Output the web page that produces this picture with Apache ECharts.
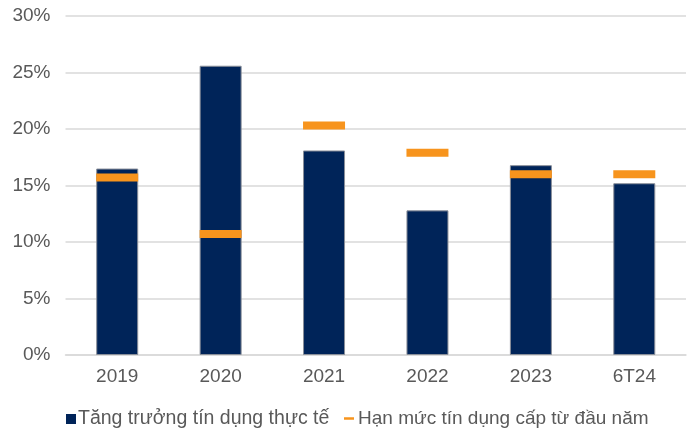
<!DOCTYPE html>
<html>
<head>
<meta charset="utf-8">
<script src="https://cdn.jsdelivr.net/npm/echarts@6/dist/echarts.min.js"></script>
<style>
  html, body { margin: 0; padding: 0; background: #fff; }
  #chart { width: 694px; height: 430px; }
</style>
</head>
<body>
<div id="chart"></div>
<script>
// Credit growth vs. the credit quota granted at the start of each year (%)
const categories = ['2019', '2020', '2021', '2022', '2023', '6T24'];
const actualGrowth = [16.5, 25.6, 18.1, 12.8, 16.8, 15.2];
const creditQuota = [15.7, 10.7, 20.3, 17.9, 16.0, 16.0];
const yTicks = [0, 5, 10, 15, 20, 25, 30];

const seriesNames = ['Tăng trưởng tín dụng thực tế', 'Hạn mức tín dụng cấp từ đầu năm'];
const NAVY = '#002459';
const ORANGE = '#F7941D';
const FONT = 'Liberation Sans, Arial, sans-serif';

const chart = echarts.init(document.getElementById('chart'), null, { renderer: 'canvas' });

chart.setOption({
  animation: false,
  backgroundColor: '#ffffff',
  textStyle: { fontFamily: FONT },
  grid: { left: 65.5, right: 8, top: 16, bottom: 75, containLabel: false },
  legend: [
    {
      data: [seriesNames[0]],
      left: 61, top: 404,
      icon: 'rect', itemWidth: 10, itemHeight: 10, itemGap: 0,
      itemStyle: { borderWidth: 0 },
      textStyle: { color: '#595959', fontSize: 19.5, fontFamily: FONT, padding: [0, 0, 0, -3] },
      selectedMode: false
    },
    {
      data: [seriesNames[1]],
      left: 339, top: 404,
      icon: 'rect', itemWidth: 10, itemHeight: 2.5, itemGap: 0,
      itemStyle: { borderWidth: 0 },
      textStyle: { color: '#595959', fontSize: 19, fontFamily: FONT, padding: [0, 0, 0, -1] },
      selectedMode: false
    }
  ],
  xAxis: {
    type: 'category',
    data: categories,
    axisLine: { show: true, lineStyle: { color: '#d9d9d9', width: 1.5 } },
    axisTick: { show: false },
    axisLabel: { color: '#595959', fontSize: 19, margin: 12, fontFamily: FONT }
  },
  yAxis: {
    type: 'value',
    min: yTicks[0],
    max: yTicks[yTicks.length - 1],
    interval: 5,
    axisLine: { show: false },
    axisTick: { show: false },
    splitLine: { lineStyle: { color: '#d9d9d9', width: 1.5 } },
    axisLabel: {
      color: '#595959', fontSize: 19, margin: 15, fontFamily: FONT,
      formatter: v => v + '%'
    }
  },
  series: [
    {
      name: seriesNames[0],
      type: 'bar',
      data: actualGrowth,
      barWidth: 42,
      itemStyle: { color: NAVY, borderColor: '#8a8f99', borderWidth: 1 },
      z: 2
    },
    {
      name: seriesNames[1],
      type: 'scatter',
      data: creditQuota,
      symbol: 'rect',
      symbolSize: [42, 8],
      itemStyle: { color: ORANGE, opacity: 1 },
      z: 5
    }
  ]
});
</script>
</body>
</html>
